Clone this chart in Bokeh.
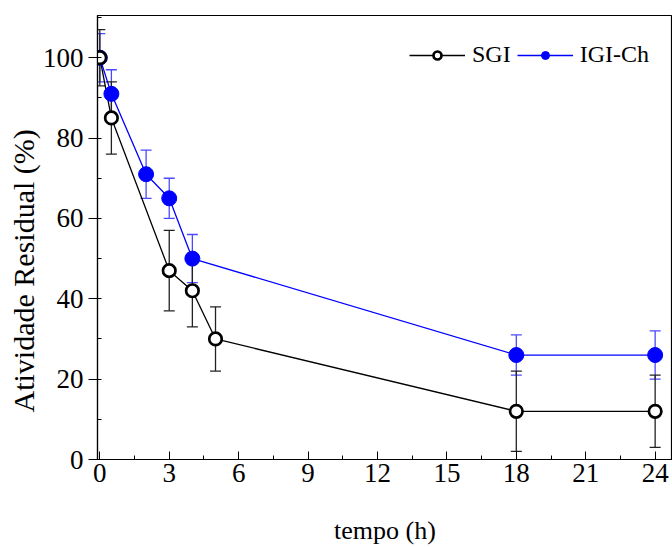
from bokeh.plotting import figure
from bokeh.models import ColumnDataSource, Whisker, SingleIntervalTicker, Range1d, Legend, LegendItem, TeeHead, Title
from bokeh.embed import file_html
from bokeh.resources import INLINE

# Data
sgi_t = [0, 0.5, 3, 4, 5, 18, 24]
sgi_y = [100, 85, 47, 42, 30, 12, 12]
sgi_err = [7, 9, 10, 9, 8, 10, 9]

igi_t = [0, 0.5, 2, 3, 4, 18, 24]
igi_y = [100, 91, 71, 65, 50, 26, 26]
igi_err = [6, 6, 6, 5, 6, 5, 6]

FONT = "Liberation Serif"

p = figure(width=672, height=547, output_backend="svg", toolbar_location=None,
           x_range=Range1d(-0.1, 24.75), y_range=Range1d(0, 110.5),
           min_border_left=97, min_border_right=0, min_border_top=15, min_border_bottom=87)
p.xgrid.visible = False
p.ygrid.visible = False
p.outline_line_color = "black"
p.outline_line_width = 1.2
p.background_fill_color = "white"
p.border_fill_color = "white"

p.xaxis.ticker = SingleIntervalTicker(interval=3, num_minor_ticks=2)
p.yaxis.ticker = SingleIntervalTicker(interval=20, num_minor_ticks=2)

for ax in (p.xaxis[0], p.yaxis[0]):
    ax.axis_line_color = "black"
    ax.axis_line_width = 1.2
    ax.major_tick_line_color = "black"
    ax.minor_tick_line_color = "black"
    ax.major_label_text_font = FONT
    ax.major_label_text_font_size = "27px"
    ax.major_label_text_color = "black"
    ax.axis_label_text_font = FONT
    ax.axis_label_text_font_size = "26px"
    ax.axis_label_text_font_style = "normal"
    ax.axis_label_text_color = "black"

p.xaxis.major_tick_in = 8
p.xaxis.major_tick_out = 0
p.xaxis.minor_tick_in = 4
p.xaxis.minor_tick_out = 0
p.xaxis.major_label_standoff = 4
p.xaxis.axis_label = "tempo (h)"
p.xaxis.axis_label_standoff = 31

p.yaxis.major_tick_in = 0
p.yaxis.major_tick_out = 9
p.yaxis.minor_tick_in = 4
p.yaxis.minor_tick_out = 0
p.yaxis.major_label_standoff = 5

ytitle = Title(text="Atividade Residual (%)", align="left", offset=47,
               text_font=FONT, text_font_size="30px", text_font_style="normal",
               text_color="black", standoff=0)
p.add_layout(ytitle, "left")

sgi_src = ColumnDataSource(dict(x=sgi_t, y=sgi_y,
                                lo=[a - b for a, b in zip(sgi_y, sgi_err)],
                                hi=[a + b for a, b in zip(sgi_y, sgi_err)]))
igi_src = ColumnDataSource(dict(x=igi_t, y=igi_y,
                                lo=[a - b for a, b in zip(igi_y, igi_err)],
                                hi=[a + b for a, b in zip(igi_y, igi_err)]))

w_sgi = Whisker(source=sgi_src, base="x", lower="lo", upper="hi", dimension="height",
                line_color="#222222", line_width=1.3,
                upper_head=TeeHead(size=11, line_color="#222222", line_width=1.3),
                lower_head=TeeHead(size=11, line_color="#222222", line_width=1.3))
w_igi = Whisker(source=igi_src, base="x", lower="lo", upper="hi", dimension="height",
                line_color="#4a4aff", line_width=1.3,
                upper_head=TeeHead(size=11, line_color="#4a4aff", line_width=1.3),
                lower_head=TeeHead(size=11, line_color="#4a4aff", line_width=1.3))
p.add_layout(w_igi)
p.add_layout(w_sgi)

l_igi = p.line("x", "y", source=igi_src, line_color="blue", line_width=1.3)
l_sgi = p.line("x", "y", source=sgi_src, line_color="black", line_width=1.3)
m_igi = p.scatter("x", "y", source=igi_src, marker="circle", size=15,
                  fill_color="blue", line_color="blue", line_width=1)
m_sgi = p.scatter("x", "y", source=sgi_src, marker="circle", size=12.5,
                  fill_color="white", line_color="black", line_width=2.7)

legend = Legend(items=[LegendItem(label="SGI", renderers=[l_sgi, m_sgi]),
                       LegendItem(label="IGI-Ch", renderers=[l_igi, m_igi])],
                orientation="horizontal", location=(312, 391),
                border_line_color=None, background_fill_alpha=0,
                label_text_font=FONT, label_text_font_size="24px",
                glyph_width=56, glyph_height=20, label_standoff=7, spacing=6,
                margin=0, padding=0)
legend.label_text_color = "black"
p.add_layout(legend)

open("out.html", "w").write(file_html(p, INLINE))
